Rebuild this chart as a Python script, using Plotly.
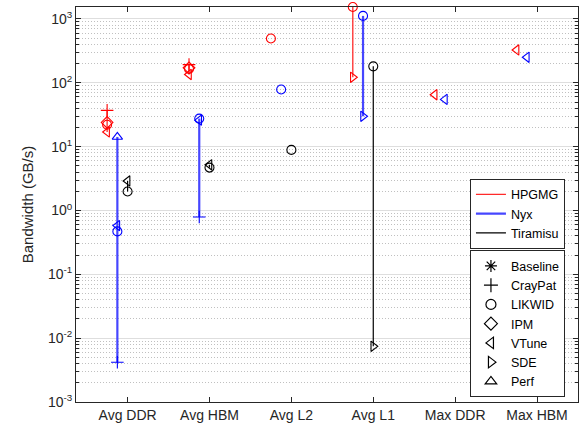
import plotly.graph_objects as go
import math

categories = ["Avg DDR", "Avg HBM", "Avg L2", "Avg L1", "Max DDR", "Max HBM"]
tools = ["Baseline", "CrayPat", "LIKWID", "IPM", "VTune", "SDE", "Perf"]
apps = ["HPGMG", "Nyx", "Tiramisu"]

# values per app, per tool, across the six categories (GB/s); None = not measured
hpgmg_craypat = [37, 193, None, None, None, None]
hpgmg_likwid = [22, 165, 495, 1540, None, None]
hpgmg_ipm = [24, 172, None, None, None, None]
hpgmg_vtune = [17, 135, None, None, 65, 327]
hpgmg_sde = [None, None, None, 122, None, None]

nyx_craypat = [0.0042, 0.79, None, None, None, None]
nyx_likwid = [0.47, 27.5, 78.6, 1117, None, None]
nyx_vtune = [0.58, 26, None, None, 55, 251]
nyx_sde = [None, None, None, 29.9, None, None]
nyx_perf = [14.2, None, None, None, None, None]

tiramisu_likwid = [1.98, 4.7, 8.9, 181, None, None]
tiramisu_vtune = [2.9, 5.2, None, None, None, None]
tiramisu_sde = [None, None, None, 0.00745, None, None]

app_data = {
    "HPGMG": {"CrayPat": hpgmg_craypat, "LIKWID": hpgmg_likwid, "IPM": hpgmg_ipm,
              "VTune": hpgmg_vtune, "SDE": hpgmg_sde},
    "Nyx": {"CrayPat": nyx_craypat, "LIKWID": nyx_likwid, "VTune": nyx_vtune,
            "SDE": nyx_sde, "Perf": nyx_perf},
    "Tiramisu": {"LIKWID": tiramisu_likwid, "VTune": tiramisu_vtune, "SDE": tiramisu_sde},
}

app_offset = {"HPGMG": -0.25, "Nyx": -0.125, "Tiramisu": 0.0}
app_color = {"HPGMG": "#ff0000", "Nyx": "#0000ff", "Tiramisu": "#000000"}
app_line_color = {"HPGMG": "#ff2a2a", "Nyx": "#4646ff", "Tiramisu": "#000000"}
app_line_width = {"HPGMG": 1.3, "Nyx": 2.2, "Tiramisu": 1.2}
tool_symbol = {"Baseline": "asterisk-open", "CrayPat": "cross-thin-open", "LIKWID": "circle-open",
               "IPM": "diamond-open", "VTune": "triangle-left-open", "SDE": "triangle-right-open",
               "Perf": "triangle-up-open"}

FONT = "Liberation Sans, Arial, Helvetica, sans-serif"
fig = go.Figure()

# vertical range lines per app and category
for app in apps:
    xs, ys = [], []
    for ci in range(len(categories)):
        vals = [v[ci] for v in app_data[app].values() if v[ci] is not None]
        if len(vals) >= 2:
            x = ci + 1 + app_offset[app]
            xs += [x, x, None]
            ys += [min(vals), max(vals), None]
    fig.add_trace(go.Scatter(x=xs, y=ys, mode="lines", name=app,
                             line=dict(color=app_line_color[app], width=app_line_width[app]),
                             legend="legend", showlegend=True, hoverinfo="skip"))

# markers
for app in apps:
    for tool, vals in app_data[app].items():
        xs = [ci + 1 + app_offset[app] for ci, v in enumerate(vals) if v is not None]
        ys = [v for v in vals if v is not None]
        fig.add_trace(go.Scatter(x=xs, y=ys, mode="markers", showlegend=False, cliponaxis=False,
                                 marker=dict(symbol=tool_symbol[tool], size=9,
                                             color=app_color[app],
                                             line=dict(color=app_color[app], width=1.1))))

# marker legend entries
for tool in tools:
    fig.add_trace(go.Scatter(x=[None], y=[None], mode="markers", name=tool, legend="legend2",
                             marker=dict(symbol=tool_symbol[tool], size=10, color="black",
                                         line=dict(color="black", width=1.2))))

major = [10.0 ** k for k in range(-3, 4)]
major_text = ["10<sup>%d</sup>" % k for k in range(-3, 4)]
minor_vals = [m * 10.0 ** k for k in range(-3, 4) for m in range(2, 10)]

axis_col = "#262626"
fig.update_layout(
    width=581, height=428,
    margin=dict(l=76, r=3, t=7, b=26),
    plot_bgcolor="white", paper_bgcolor="white",
    font=dict(family=FONT, size=13, color=axis_col),
    xaxis=dict(range=[0.37, 6.5], tickmode="array", tickvals=list(range(1, 7)), ticktext=categories,
               showgrid=False, zeroline=False, showline=True, linecolor=axis_col, linewidth=1,
               mirror="ticks", ticks="inside", ticklen=5, tickcolor=axis_col, automargin=False,
               tickfont=dict(size=14, color=axis_col)),
    yaxis=dict(type="log", range=[-3, math.log10(1540)], tickmode="array", tickvals=major,
               ticktext=major_text, showgrid=True, gridcolor="#dedede", gridwidth=1,
               zeroline=False, showline=True, linecolor=axis_col, linewidth=1,
               mirror="ticks", ticks="inside", ticklen=5, tickcolor=axis_col, automargin=False,
               tickfont=dict(size=14, color=axis_col),
               title=dict(text="Bandwidth (GB/s)", font=dict(size=15, color=axis_col), standoff=10),
               minor=dict(tickmode="array", tickvals=minor_vals, ticks="inside", ticklen=3,
                          tickcolor=axis_col, showgrid=True, gridcolor="#c0c0c0",
                          griddash="1px,2px", gridwidth=1)),
    legend=dict(x=0.974, y=0.565, xanchor="right", yanchor="top", bgcolor="white",
                bordercolor=axis_col, borderwidth=1, font=dict(size=12.5, color="black"),
                tracegroupgap=0, itemwidth=30),
    legend2=dict(x=0.974, y=0.012, xanchor="right", yanchor="bottom", bgcolor="white",
                 bordercolor=axis_col, borderwidth=1, font=dict(size=12.5, color="black"),
                 tracegroupgap=0, itemwidth=30),
)

fig.write_html("out.html", config={"displayModeBar": False},
               post_script="document.body.style.margin='0';document.body.style.overflow='hidden';")
